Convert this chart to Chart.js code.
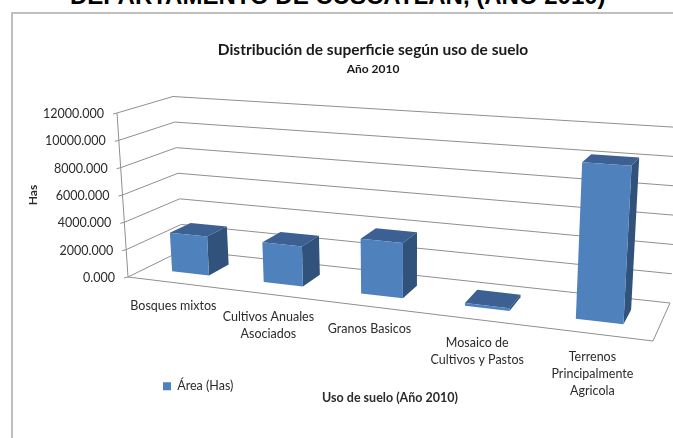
<!DOCTYPE html>
<html lang="es">
<head>
    <meta charset="UTF-8">
    <title>Uso de suelo</title>
    <style>
        html, body { margin: 0; padding: 0; background: #fff; overflow: hidden; }
        #heading {
            position: absolute; left: 70px; top: -18px;
            font: bold 24px "Liberation Sans", Arial, sans-serif;
            color: #000; white-space: nowrap;
        }
        #frame {
            position: absolute; left: 11px; top: 12px; width: 700px; height: 470px;
            border: 2px solid #bfbfbf;
        }
        #myChart { position: absolute; left: 0; top: 0; }
    </style>
</head>
<body>
    <div id="heading">DEPARTAMENTO DE CUSCATLAN, (AÑO 2010)</div>
    <div id="frame"></div>
    <canvas id="myChart" width="673" height="438"></canvas>

    <script src="https://cdn.jsdelivr.net/npm/chart.js"></script>
    <script>

const categories = ['Bosques mixtos', ['Cultivos Anuales', 'Asociados'], 'Granos Basicos', ['Mosaico de', 'Cultivos y Pastos'], ['Terrenos', 'Principalmente', 'Agricola']];
const areaHas = [2850, 2850, 3800, 180, 10200];
const seriesName = 'Área (Has)';
const titleText = 'Distribución de superficie según uso de suelo';
const subtitleText = 'Año 2010';
const xTitle = 'Uso de suelo (Año 2010)';
const yTitle = 'Has';

const FONT = 'Lato, sans-serif';
const TEXT = '#2b2b2b';
const GRID = '#8f8f8f';
const FRONT = '#4f81bd';
const TOP = '#3b6091';
const SIDE = '#30527b';

// corners of the 3d box, [u][v][w] = across, up, into the page
const box = {
    fb: [[128, 277], [653, 341]],
    ft: [[117, 113], [664, 146]],
    bb: [[183, 250], [670, 303]],
    bt: [[173, 96.5], [681, 127.6]]
};
const PERSPECTIVE = 0.174;
const BAR_FRONT = 0.33;
const BAR_BACK = 0.72;

function lerp(a, b, t) {
    return [a[0] + (b[0] - a[0]) * t, a[1] + (b[1] - a[1]) * t];
}

function project(u, v, w) {
    const k = u / (1 + PERSPECTIVE * (1 - u));
    const front = lerp(lerp(box.fb[0], box.fb[1], k), lerp(box.ft[0], box.ft[1], k), v);
    const back = lerp(lerp(box.bb[0], box.bb[1], k), lerp(box.bt[0], box.bt[1], k), v);
    return lerp(front, back, w);
}

function poly(ctx, pts, fill) {
    ctx.beginPath();
    pts.forEach((p, i) => i ? ctx.lineTo(p[0], p[1]) : ctx.moveTo(p[0], p[1]));
    if (fill) {
        ctx.closePath();
        ctx.fillStyle = fill;
        ctx.fill();
    } else {
        ctx.stroke();
    }
}

const box3d = {
    id: 'box3d',
    beforeDraw(chart) {
        // put the legend where the original has it
        const l = chart.legend;
        const w = l.width;
        l.left = 153;
        l.right = 153 + w;
        l.top = 370;
        l.bottom = 370 + l.height;
    },
    beforeDatasetDraw(chart, args) {
        const ctx = chart.ctx;
        const area = chart.chartArea;
        const yScale = chart.scales.y;
        const toU = x => (x - area.left) / area.width;
        const toV = y => (area.bottom - y) / area.height;

        ctx.save();

        // walls and floor
        ctx.strokeStyle = GRID;
        ctx.lineWidth = 1;
        ctx.font = '12.5px ' + FONT;
        ctx.textBaseline = 'middle';
        yScale.ticks.forEach(t => {
            const v = toV(yScale.getPixelForValue(t.value));
            const a = project(0, v, 0);
            poly(ctx, [[a[0] - 4, a[1] + 1], a, project(0, v, 1), project(1, v, 1)]);
            ctx.fillStyle = TEXT;
            ctx.textAlign = 'right';
            ctx.fillText(t.value.toFixed(3), a[0] - 13, a[1] + 1);
        });
        poly(ctx, [project(0, 1, 0), project(0, 0, 0), project(1, 0, 0), project(1, 0, 1)]);

        // bars
        const meta = chart.getDatasetMeta(args.index);
        meta.data.forEach(bar => {
            const u0 = toU(bar.x - bar.width / 2);
            const u1 = toU(bar.x + bar.width / 2);
            const v1 = toV(bar.y);
            const p = (u, v, w) => project(u, v, w);
            poly(ctx, [p(u0, v1, BAR_FRONT), p(u1, v1, BAR_FRONT), p(u1, v1, BAR_BACK), p(u0, v1, BAR_BACK)], TOP);
            poly(ctx, [p(u1, 0, BAR_FRONT), p(u1, v1, BAR_FRONT), p(u1, v1, BAR_BACK), p(u1, 0, BAR_BACK)], SIDE);
            poly(ctx, [p(u0, 0, BAR_FRONT), p(u1, 0, BAR_FRONT), p(u1, v1, BAR_FRONT), p(u0, v1, BAR_FRONT)], FRONT);
        });

        // category labels hang off the front edge
        const xScale = chart.scales.x;
        ctx.fillStyle = TEXT;
        ctx.textAlign = 'center';
        categories.forEach((c, i) => {
            const q = project(toU(xScale.getPixelForValue(i)), 0, 0);
            [].concat(c).forEach((line, n) => ctx.fillText(line, q[0], q[1] + 23 + n * 17));
        });

        // axis titles
        ctx.font = 'bold 12.5px ' + FONT;
        ctx.fillText(xTitle, 390, 398);
        ctx.font = 'bold 12px ' + FONT;
        ctx.translate(33, 195);
        ctx.rotate(-Math.PI / 2);
        ctx.fillText(yTitle, 0, 0);

        ctx.restore();
        return false;
    }
};

new Chart(document.getElementById('myChart'), {
    type: 'bar',
    data: {
        labels: categories,
        datasets: [{
            label: seriesName,
            data: areaHas,
            backgroundColor: FRONT,
            barPercentage: 0.41,
            categoryPercentage: 1
        }]
    },
    options: {
        responsive: false,
        animation: false,
        layout: { padding: { left: 73, top: 41 } },
        scales: {
            x: { display: false },
            y: { display: false, min: 0, max: 12000, ticks: { stepSize: 2000 } }
        },
        plugins: {
            title: {
                display: true, text: titleText, color: '#1a1a1a',
                font: { family: FONT, size: 15.5, weight: 'bold' },
                padding: { top: 0, bottom: 2 }
            },
            subtitle: {
                display: true, text: subtitleText, color: '#1a1a1a',
                font: { family: FONT, size: 12, weight: 'bold' },
                padding: 0
            },
            legend: {
                position: 'bottom',
                align: 'start',
                labels: { boxWidth: 8, boxHeight: 8, color: TEXT, font: { family: FONT, size: 12.5 }, padding: 10 }
            },
            tooltip: { enabled: false }
        }
    },
    plugins: [box3d]
});

    </script>
</body>
</html>
